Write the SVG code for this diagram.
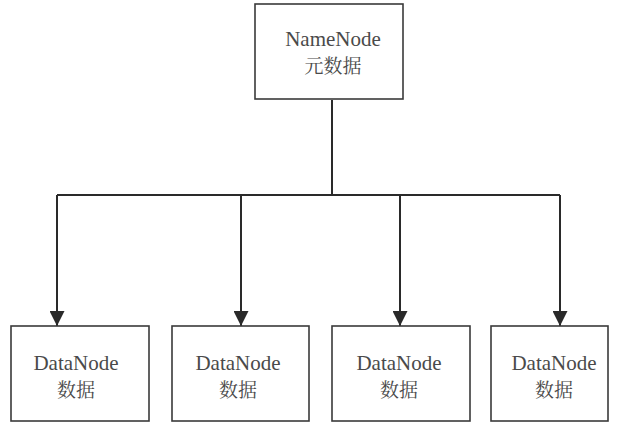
<svg xmlns="http://www.w3.org/2000/svg" width="619" height="423" viewBox="0 0 619 423">
<defs>
<style>
.box{fill:#fff;stroke:#3a3a3a;stroke-width:1.6}
.en{font-family:'Liberation Serif','Times New Roman',Times,serif;font-size:21px;fill:#4a4a4a;text-anchor:middle}
.zh{font-family:'Noto Serif CJK SC','Noto Sans CJK SC',sans-serif;font-size:19px;fill:#4a4a4a;text-anchor:middle}
.conn{fill:none;stroke:#2a2a2a;stroke-width:2}
</style>
<marker id="arr" viewBox="0 0 15 15" refX="15" refY="7.5" markerWidth="15" markerHeight="15" markerUnits="userSpaceOnUse" orient="auto">
<path d="M0,0 L15,7.5 L0,15 Z" fill="#2a2a2a"/>
</marker>
</defs>
<rect width="619" height="423" fill="#fff"/>
<g id="connectors">
<path class="conn" d="M332,100 V195"/>
<path class="conn" d="M57,195 H560"/>
<path class="conn" d="M57,195 V326" marker-end="url(#arr)"/>
<path class="conn" d="M241,195 V326" marker-end="url(#arr)"/>
<path class="conn" d="M400,195 V326" marker-end="url(#arr)"/>
<path class="conn" d="M560,195 V326" marker-end="url(#arr)"/>
</g>
<g id="namenode">
<rect class="box" x="255" y="4" width="148" height="95"/>
<text class="en" x="333" y="46">NameNode</text>
<text class="zh" x="333" y="73">元数据</text>
</g>
<g id="datanode1">
<rect class="box" x="11" y="326" width="138" height="95"/>
<text class="en" x="76" y="370">DataNode</text>
<text class="zh" x="76" y="397">数据</text>
</g>
<g id="datanode2">
<rect class="box" x="172" y="326" width="137" height="95"/>
<text class="en" x="238" y="370">DataNode</text>
<text class="zh" x="238" y="397">数据</text>
</g>
<g id="datanode3">
<rect class="box" x="332" y="326" width="138" height="95"/>
<text class="en" x="399" y="370">DataNode</text>
<text class="zh" x="399" y="397">数据</text>
</g>
<g id="datanode4">
<rect class="box" x="491" y="326" width="117" height="95"/>
<text class="en" x="554" y="370">DataNode</text>
<text class="zh" x="554" y="397">数据</text>
</g>
</svg>
